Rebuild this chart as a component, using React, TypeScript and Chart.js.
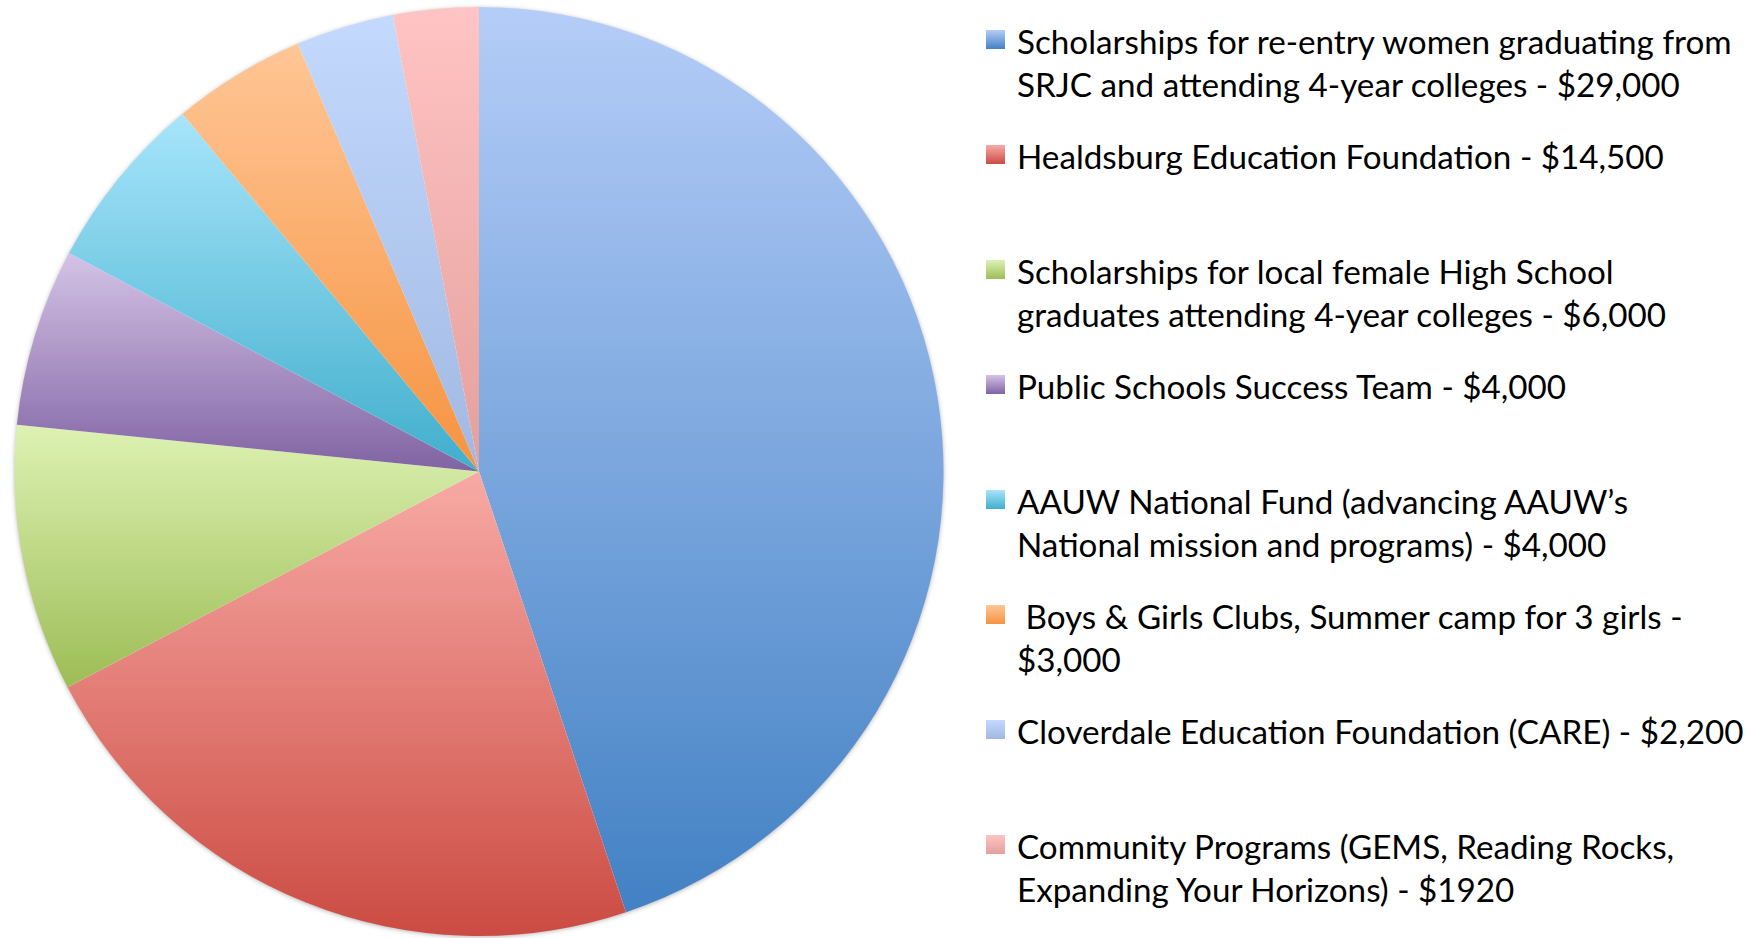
import React, { useEffect, useRef } from "react";
import { Chart, registerables } from "chart.js";

Chart.register(...registerables);

const categories: string[] = [
  "Scholarships for re-entry women graduating from\nSRJC and attending 4-year colleges - $29,000",
  "Healdsburg Education Foundation - $14,500",
  "Scholarships for local female High School\ngraduates attending 4-year colleges - $6,000",
  "Public Schools Success Team - $4,000",
  "AAUW National Fund (advancing AAUW\u2019s\nNational mission and programs) - $4,000",
  " Boys & Girls Clubs, Summer camp for 3 girls -\n$3,000",
  "Cloverdale Education Foundation (CARE) - $2,200",
  "Community Programs (GEMS, Reading Rocks,\nExpanding Your Horizons) - $1920",
];

const amounts: number[] = [29000, 14500, 6000, 4000, 4000, 3000, 2200, 1920];

const topColors: string[] = ["#b5cdf8", "#f8aaa5", "#ddf2b3", "#d4c3e6", "#a7e5fb", "#ffc696", "#c3d9fd", "#ffc4c3"];
const bottomColors: string[] = ["#4281c4", "#cb4b42", "#9dbd56", "#8063a3", "#40aecb", "#f69340", "#a1b8e2", "#e3a09d"];

const FONT_FAMILY = "Lato, 'Noto Sans', sans-serif";
const TARGET_WIDTH = 717;

function fitFontSize(): number {
  try {
    const c = document.createElement("canvas");
    const g = c.getContext("2d");
    if (!g) return 30;
    g.font = `30px ${FONT_FAMILY}`;
    const w = g.measureText("Scholarships for re-entry women graduating from").width;
    return (30 * TARGET_WIDTH) / w;
  } catch (e) {
    return 30;
  }
}

function sliceGradient(context: any) {
  const chart = context.chart;
  const i = context.dataIndex;
  const area = chart.chartArea;
  if (!area || i === undefined) return topColors[i ?? 0];
  const cx = (area.left + area.right) / 2;
  const cy = (area.top + area.bottom) / 2;
  const r = Math.min(area.right - area.left, area.bottom - area.top) / 2;
  const data = chart.data.datasets[0].data as number[];
  const total = data.reduce((a, b) => a + b, 0);
  let start = -Math.PI / 2;
  for (let j = 0; j < i; j++) start += (2 * Math.PI * data[j]) / total;
  const end = start + (2 * Math.PI * data[i]) / total;
  const ys = [cy, cy + r * Math.sin(start), cy + r * Math.sin(end)];
  for (const k of [-Math.PI / 2, Math.PI / 2, (3 * Math.PI) / 2]) {
    if (k >= start && k <= end) ys.push(cy + r * Math.sin(k));
  }
  const y0 = Math.min(...ys);
  const y1 = Math.max(...ys);
  const grad = chart.ctx.createLinearGradient(0, y0, 0, Math.max(y1, y0 + 1));
  grad.addColorStop(0, topColors[i]);
  grad.addColorStop(1, bottomColors[i]);
  return grad;
}

const shadowPlugin = {
  id: "pieShadow",
  beforeDatasetsDraw(chart: any) {
    const meta = chart.getDatasetMeta(0);
    const arc = meta.data[0];
    if (!arc) return;
    const { x, y, outerRadius } = arc.getProps(["x", "y", "outerRadius"], true);
    const ctx = chart.ctx;
    ctx.save();
    ctx.shadowColor = "rgba(0,0,0,0.35)";
    ctx.shadowBlur = 5;
    ctx.shadowOffsetY = 1;
    ctx.fillStyle = "#ffffff";
    ctx.beginPath();
    ctx.arc(x, y, outerRadius - 0.5, 0, Math.PI * 2);
    ctx.fill();
    ctx.restore();
  },
};

export default function App() {
  const canvasRef = useRef<HTMLCanvasElement | null>(null);
  const fontSize = fitFontSize();

  useEffect(() => {
    document.body.style.margin = "0";
    const canvas = canvasRef.current;
    if (!canvas) return;
    const chart = new Chart(canvas, {
      type: "pie",
      data: {
        labels: categories,
        datasets: [
          {
            data: amounts,
            backgroundColor: sliceGradient,
            borderWidth: 0,
          },
        ],
      },
      options: {
        animation: false,
        responsive: false,
        maintainAspectRatio: false,
        layout: { padding: { left: 13, right: 13, top: 7, bottom: 2 } },
        plugins: {
          legend: { display: false },
          tooltip: { enabled: false },
        },
      },
      plugins: [shadowPlugin],
    });
    return () => chart.destroy();
  }, []);

  const lineHeight = 43;
  return (
    <div
      style={{
        position: "fixed",
        left: 0,
        top: 0,
        width: 1758,
        height: 938,
        background: "#ffffff",
        overflow: "hidden",
      }}
    >
      <canvas
        ref={canvasRef}
        width={958}
        height={938}
        style={{ position: "absolute", left: 0, top: 0, width: 958, height: 938 }}
      />
      {categories.map((label, i) => {
        const center = 41.5 + 115 * i;
        return (
          <React.Fragment key={i}>
            <div
              style={{
                position: "absolute",
                left: 986,
                top: center - 11.5,
                width: 19,
                height: 19,
                background: `linear-gradient(${topColors[i]}, ${bottomColors[i]})`,
              }}
            />
            <div
              style={{
                position: "absolute",
                left: 1017,
                top: center - lineHeight / 2,
                fontFamily: FONT_FAMILY,
                fontSize: fontSize,
                lineHeight: `${lineHeight}px`,
                whiteSpace: "pre",
                color: "#000000",
              }}
            >
              {label}
            </div>
          </React.Fragment>
        );
      })}
    </div>
  );
}
